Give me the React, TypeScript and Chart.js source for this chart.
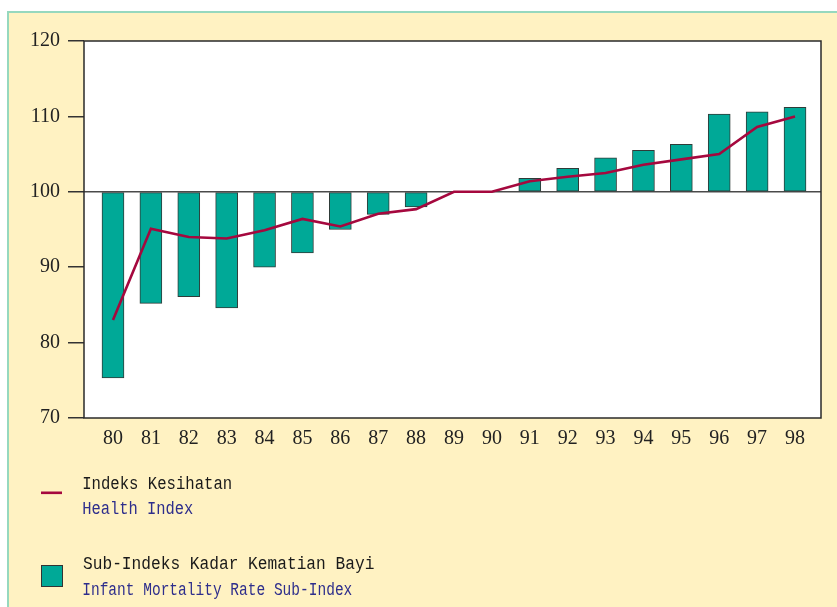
import React, { useEffect, useRef } from "react";
import { Chart, registerables } from "chart.js";

Chart.register(...registerables);

const years = ["80", "81", "82", "83", "84", "85", "86", "87", "88", "89", "90", "91", "92", "93", "94", "95", "96", "97", "98"];
const healthIndex = [83.0, 95.1, 94.0, 93.8, 94.9, 96.4, 95.4, 97.1, 97.7, 100, 100, 101.4, 102.0, 102.5, 103.6, 104.3, 105.0, 108.6, 110.0];
const imrSubIndex = [75.3, 85.2, 86.1, 84.6, 90.0, 91.9, 95.0, 97.0, 98.0, 100, 100, 101.8, 103.1, 104.5, 105.5, 106.3, 110.3, 110.6, 111.2];
const yTicks = [70, 80, 90, 100, 110, 120];
const baseValue = 100;

const legendItems = [
  { kind: "line", malay: "Indeks Kesihatan", english: "Health Index" },
  { kind: "box", malay: "Sub-Indeks Kadar Kematian Bayi", english: "Infant Mortality Rate Sub-Index" },
];

const TEAL = "#00A997";
const CRIMSON = "#A5083E";
const YELLOW = "#FFF2C2";
const FRAME = "#96D8BE";
const DARK = "#2a2a2a";
const NAVY = "#2E2E8C";
const SERIF = '"Liberation Serif", serif';
const MONO = '"Liberation Mono", "DejaVu Serif", serif';

const framePlugin = {
  id: "frame",
  beforeDraw(chart: any) {
    const { ctx, width, height, chartArea } = chart;
    ctx.save();
    ctx.fillStyle = "#ffffff";
    ctx.fillRect(0, 0, width, height);
    ctx.fillStyle = YELLOW;
    ctx.fillRect(9, 13, width - 9, height - 13);
    ctx.fillStyle = FRAME;
    ctx.fillRect(7, 11, width - 7, 2);
    ctx.fillRect(7, 11, 2, height - 11);
    ctx.fillStyle = "#ffffff";
    ctx.fillRect(chartArea.left, chartArea.top, chartArea.right - chartArea.left, chartArea.bottom - chartArea.top);
    ctx.restore();
  },
  beforeDatasetsDraw(chart: any) {
    const { ctx, chartArea, scales } = chart;
    const y = scales.y.getPixelForValue(baseValue);
    ctx.save();
    ctx.strokeStyle = "#4a4a4a";
    ctx.lineWidth = 1.5;
    ctx.beginPath();
    ctx.moveTo(chartArea.left, y);
    ctx.lineTo(chartArea.right, y);
    ctx.stroke();
    ctx.restore();
  },
  afterDatasetsDraw(chart: any) {
    const { ctx, chartArea } = chart;
    ctx.save();
    ctx.strokeStyle = DARK;
    ctx.lineWidth = 1.5;
    ctx.strokeRect(chartArea.left, chartArea.top, chartArea.right - chartArea.left, chartArea.bottom - chartArea.top);
    ctx.restore();
  },
  afterDraw(chart: any) {
    const { ctx } = chart;
    const rows = [
      { text: legendItems[0].malay, y: 488.5, w: 148, color: "#1a1a1a" },
      { text: legendItems[0].english, y: 514, w: 110, color: NAVY },
      { text: legendItems[1].malay, y: 568.5, w: 291, color: "#1a1a1a" },
      { text: legendItems[1].english, y: 595, w: 269, color: NAVY },
    ];
    ctx.save();
    ctx.fillStyle = CRIMSON;
    ctx.fillRect(41, 491.5, 21, 2.6);
    ctx.fillStyle = TEAL;
    ctx.fillRect(41.5, 565.5, 21, 21);
    ctx.strokeStyle = "#333";
    ctx.lineWidth = 1;
    ctx.strokeRect(41.5, 565.5, 21, 21);
    ctx.font = "19px " + MONO;
    ctx.textBaseline = "alphabetic";
    ctx.textAlign = "left";
    for (const r of rows) {
      const m = ctx.measureText(r.text);
      const ink = (m.actualBoundingBoxRight || m.width) + (m.actualBoundingBoxLeft || 0);
      const sx = r.w / ink;
      ctx.save();
      ctx.translate(83, r.y);
      ctx.scale(sx, 1);
      ctx.fillStyle = r.color;
      ctx.fillText(r.text, m.actualBoundingBoxLeft || 0, 0);
      ctx.restore();
    }
    ctx.restore();
  },
};

export default function App() {
  const ref = useRef<HTMLCanvasElement | null>(null);
  useEffect(() => {
    let chart: any = null;
    let cancelled = false;
    const timers: any[] = [];
    const build = () => {
      if (cancelled || !ref.current || chart) return;
      chart = new Chart(ref.current, {
        type: "bar",
        data: {
          datasets: [
            {
              type: "line",
              label: "Health Index",
              data: healthIndex.map((v, i) => ({ x: i, y: v })),
              borderColor: CRIMSON,
              borderWidth: 2.6,
              pointRadius: 0,
              tension: 0,
              order: 0,
            } as any,
            {
              type: "bar",
              label: "Infant Mortality Rate Sub-Index",
              data: imrSubIndex.map((v, i) => ({ x: i, y: v })),
              base: baseValue,
              backgroundColor: TEAL,
              borderColor: "#2f3b38",
              borderWidth: 1,
              borderSkipped: false,
              barThickness: 22,
              order: 1,
            } as any,
          ],
        },
        plugins: [framePlugin],
        options: {
          responsive: false,
          animation: false,
          layout: { padding: { left: 0, top: 41, right: 16, bottom: 147 } },
          plugins: { legend: { display: false }, tooltip: { enabled: false } },
          scales: {
            x: {
              type: "linear",
              offset: false,
              min: -0.765,
              max: 18.686,
              afterBuildTicks: (scale: any) => {
                scale.ticks = years.map((_, i) => ({ value: i }));
              },
              afterFit: (scale: any) => {
                scale.height = 42;
              },
              grid: { display: false, drawTicks: false, offset: false },
              border: { display: false },
              ticks: {
                autoSkip: false,
                maxRotation: 0,
                padding: 9,
                color: "#222",
                font: { family: SERIF, size: 20 },
                callback: (v: any) => years[Math.round(Number(v))] ?? "",
              },
            },
            y: {
              type: "linear",
              min: 70,
              max: 120,
              afterBuildTicks: (scale: any) => {
                scale.ticks = yTicks.map((v) => ({ value: v }));
              },
              afterFit: (scale: any) => {
                scale.width = 84;
              },
              border: { display: false },
              grid: {
                drawOnChartArea: false,
                drawTicks: true,
                tickLength: 16,
                color: "#333",
                lineWidth: 1.5,
              },
              ticks: {
                padding: 8,
                color: "#222",
                font: { family: SERIF, size: 20 },
              },
            },
          },
        },
      });
    };
    const redraw = () => {
      if (!cancelled && chart) chart.update("none");
    };
    const fonts: any = (document as any).fonts;
    if (fonts && fonts.load) {
      Promise.all([
        fonts.load('20px "Liberation Serif"', "0123456789"),
        fonts.load('19px "Liberation Mono"', "Indeks Kesihatan Health"),
      ])
        .catch(() => null)
        .then(() => (fonts.ready ? fonts.ready : null))
        .catch(() => null)
        .then(() => {
          build();
          timers.push(setTimeout(redraw, 150));
          timers.push(setTimeout(redraw, 500));
          timers.push(setTimeout(redraw, 1200));
        });
      if (fonts.addEventListener) fonts.addEventListener("loadingdone", redraw);
    } else {
      build();
    }
    return () => {
      cancelled = true;
      timers.forEach((t) => clearTimeout(t));
      if (fonts && fonts.removeEventListener) fonts.removeEventListener("loadingdone", redraw);
      if (chart) chart.destroy();
    };
  }, []);
  return (
    <div style={{ position: "fixed", left: 0, top: 0, width: 837, height: 607 }}>
      <span
        aria-hidden="true"
        style={{ position: "absolute", left: 0, top: 0, visibility: "hidden", fontFamily: '"Liberation Mono"', fontSize: 19 }}
      >
        Indeks Kesihatan
      </span>
      <span
        aria-hidden="true"
        style={{ position: "absolute", left: 0, top: 0, visibility: "hidden", fontFamily: '"Liberation Serif"', fontSize: 20 }}
      >
        0123456789
      </span>
      <canvas ref={ref} width={837} height={607} style={{ display: "block", position: "relative" }} />
    </div>
  );
}
